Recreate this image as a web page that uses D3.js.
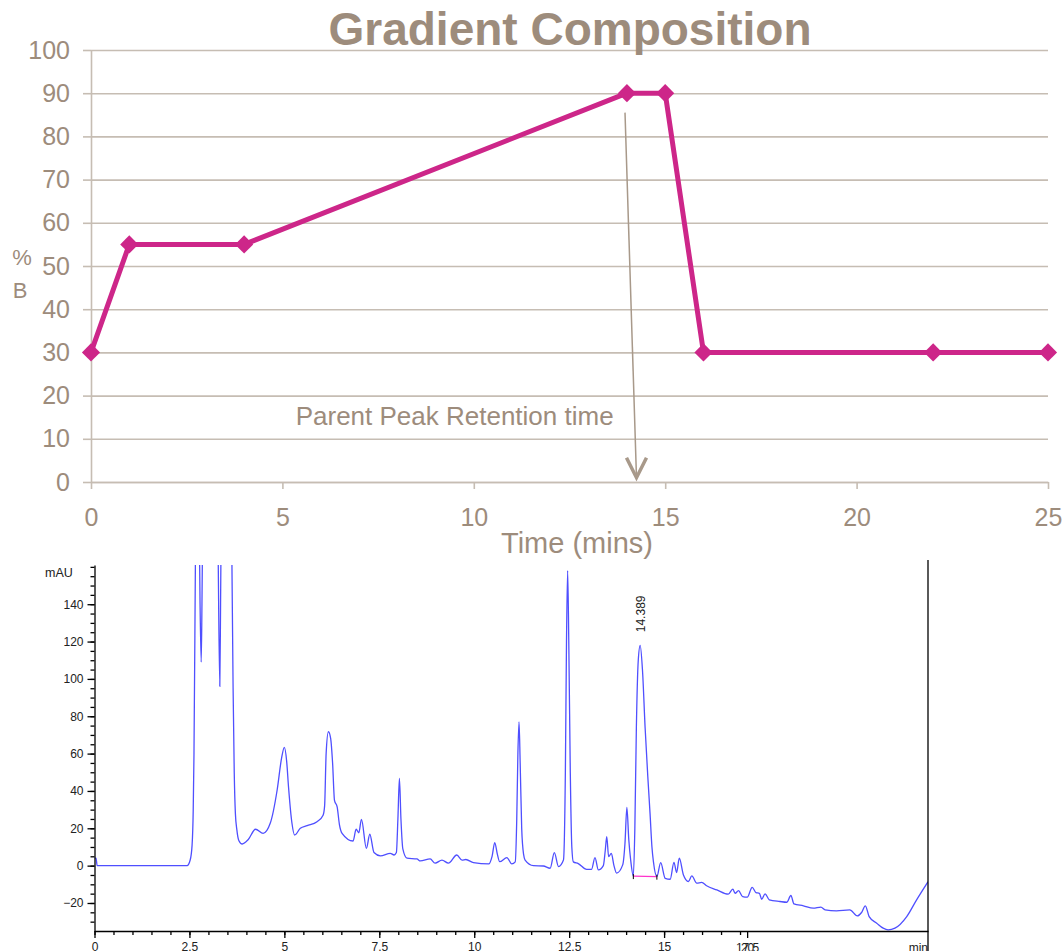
<!DOCTYPE html>
<html>
<head>
<meta charset="utf-8">
<script src="https://cdn.jsdelivr.net/npm/d3@7"></script>
<style>
  body { margin: 0; background: #fff; }
  svg { display: block; }
</style>
</head>
<body>
<svg id="chart" width="1063" height="951"></svg>
<script>
// gradient program: time (min) vs %B
var gradTime = [0, 1, 4, 14, 15, 16, 22, 25];
var gradB = [30, 55, 55, 90, 90, 30, 30, 30];
var gradYTicks = [0, 10, 20, 30, 40, 50, 60, 70, 80, 90, 100];
var gradXTicks = [0, 5, 10, 15, 20, 25];
var arrowPts = [[13.95, 85.5], [14.25, 1]];
var arrowText = "Parent Peak Retention time";
var arrowTextAt = [9.5, 13.2];

// chromatogram trace: [time (min), mAU]
var chromTrace = [
  [0,4],[0.04,4],[0.07,0],[1,0],[2,0],[2.44,0],[2.52,3],[2.57,11],[2.60,30],[2.62,60],
  [2.66,170],[2.70,260],[2.75,200],[2.78,140],[2.81,109],[2.83,140],[2.86,210],[2.92,320],[3.10,400],[3.22,260],
  [3.26,160],[3.30,96],[3.32,140],[3.35,220],[3.45,400],[3.58,260],[3.62,160],[3.65,95],[3.68,50],[3.71,28],
  [3.75,19],[3.80,13.5],[3.89,11.6],[4.05,14],[4.24,19.5],[4.44,17.3],[4.63,22.8],[4.81,40.5],[4.93,58],[5.0,63.3],
  [5.06,56],[5.11,42],[5.20,22.7],[5.27,16.4],[5.42,20],[5.60,21.4],[5.86,23.5],[6.02,27],[6.06,32],[6.10,60],
  [6.16,71.7],[6.22,68],[6.27,55],[6.32,35],[6.39,31.5],[6.45,22],[6.52,17.3],[6.81,13.2],[6.89,19.5],[6.96,17.6],
  [7.03,24.8],[7.16,9.3],[7.25,16.8],[7.36,7],[7.53,5.2],[7.79,6.6],[7.89,5.7],[7.95,7],[7.99,25],[8.03,46.7],
  [8.07,25],[8.12,9],[8.23,4],[8.49,3.6],[8.58,2.5],[8.84,3.6],[8.97,1.3],[9.15,3],[9.32,1.3],[9.54,5.7],
  [9.68,3],[9.78,3.3],[9.98,1.6],[10.38,0.9],[10.47,5],[10.54,12.3],[10.61,6],[10.67,2.1],[10.86,4.3],[10.99,0.9],
  [11.08,2],[11.12,25],[11.15,60],[11.18,77],[11.21,55],[11.25,20],[11.30,6],[11.34,3],[11.56,0],[11.82,-0.2],
  [12.0,-1.4],[12.11,7],[12.22,-0.5],[12.35,3],[12.40,50],[12.43,120],[12.46,158],[12.49,120],[12.53,50],[12.57,10],
  [12.61,2],[12.74,1.1],[12.96,-2],[13.09,-2],[13.18,4.3],[13.27,-2.3],[13.40,0],[13.45,8],[13.49,15.5],[13.54,4.8],
  [13.61,6.6],[13.68,0],[13.75,-4],[13.91,0.4],[13.97,12],[14.02,31.2],[14.07,14],[14.12,3],[14.19,-5.5],[14.23,20],
  [14.27,74],[14.32,110],[14.37,118],[14.43,105],[14.50,74],[14.57,48],[14.63,28],[14.68,10],[14.72,2],[14.81,-5.9],
  [14.91,1.6],[15.03,-6.8],[15.16,-7.3],[15.26,1.8],[15.33,-3.7],[15.40,4],[15.51,-5],[15.64,-8.5],[15.73,-5.5],[15.86,-9.4],
  [15.99,-9],[16.12,-10.8],[16.39,-13],[16.69,-15.3],[16.81,-12.6],[16.87,-14.8],[16.96,-13.4],[17.07,-16.6],[17.19,-16.9],[17.32,-11.6],
  [17.42,-14.4],[17.51,-14.8],[17.57,-18],[17.66,-15.1],[17.77,-18.3],[18.05,-19.2],[18.23,-19.6],[18.34,-16],[18.42,-20.5],[18.67,-21.5],
  [18.93,-22.8],[19.13,-22.2],[19.24,-23.7],[19.54,-24.2],[19.89,-23.7],[20.09,-26.9],[20.20,-25.1],[20.30,-21.5],[20.40,-27.3],[20.60,-30.8],
  [20.77,-33.5],[20.90,-34.4],[21.08,-33.5],[21.39,-27.3],[21.65,-18.3],[21.95,-8.6]
];
var chromYTicks = [-20, 0, 20, 40, 60, 80, 100, 120, 140];
var chromXTicks = [0, 2.5, 5, 7.5, 10, 12.5, 15];
var peakTime = 14.389;
var peakTop = 121;
var peakBase = [[14.19, -5.6], [14.81, -5.9]];
var oddTick = 17.2;
var oddLabels = ["17.5", "20"];

var svg = d3.select("#chart");
var brown = "#9d8c7c", grid = "#c6bdb3", pink = "#cd2689";
var sans = "'Liberation Sans', Arial, sans-serif";

// ---------- upper chart: gradient composition ----------
var x = d3.scaleLinear().domain([0, 25]).range([91, 1048]);
var y = d3.scaleLinear().domain([0, 100]).range([482, 50]);

var gradG = svg.append("g");

// gridlines
gradG.append("g")
    .attr("transform", "translate(" + x(0) + ",0)")
    .call(d3.axisLeft(y).tickValues(gradYTicks).tickSize(-(x(25) - x(0))).tickFormat(""))
    .call(function(g) { g.select(".domain").remove(); })
    .selectAll("line").attr("stroke", grid).attr("stroke-width", 1.6);

// y axis
var yAx = gradG.append("g")
    .attr("transform", "translate(" + x(0) + ",0)")
    .call(d3.axisLeft(y).tickValues(gradYTicks).tickSize(8).tickPadding(13).tickSizeOuter(0));
yAx.select(".domain").attr("stroke", grid).attr("stroke-width", 1.6);
yAx.selectAll("line").attr("stroke", grid).attr("stroke-width", 1.6);
yAx.selectAll("text").attr("fill", brown).attr("font-size", 25).attr("font-family", sans);

// x axis
var xAx = gradG.append("g")
    .attr("transform", "translate(0," + y(0) + ")")
    .call(d3.axisBottom(x).tickValues(gradXTicks).tickSize(7).tickPadding(19).tickSizeOuter(0));
xAx.select(".domain").attr("stroke", grid).attr("stroke-width", 1.6);
xAx.selectAll("line").attr("stroke", grid).attr("stroke-width", 1.6);
xAx.selectAll("text").attr("fill", brown).attr("font-size", 25).attr("font-family", sans);

// title and axis labels
gradG.append("text")
    .attr("x", 570).attr("y", 45)
    .attr("text-anchor", "middle")
    .attr("font-family", sans).attr("font-weight", "bold").attr("font-size", 46)
    .attr("fill", brown)
    .text("Gradient Composition");

gradG.append("text")
    .attr("x", 577).attr("y", 553)
    .attr("text-anchor", "middle")
    .attr("font-family", sans).attr("font-size", 29)
    .attr("fill", brown)
    .text("Time (mins)");

gradG.append("text")
    .attr("x", 22).attr("y", 265)
    .attr("text-anchor", "middle")
    .attr("font-family", sans).attr("font-size", 22)
    .attr("fill", brown)
    .text("%");
gradG.append("text")
    .attr("x", 20).attr("y", 298)
    .attr("text-anchor", "middle")
    .attr("font-family", sans).attr("font-size", 22)
    .attr("fill", brown)
    .text("B");

// annotation arrow
var a0 = arrowPts[0], a1 = arrowPts[1];
gradG.append("line")
    .attr("x1", x(a0[0])).attr("y1", y(a0[1]))
    .attr("x2", x(a1[0])).attr("y2", y(a1[1]))
    .attr("stroke", "#a8998a").attr("stroke-width", 1.5);
var tipX = x(a1[0]), tipY = y(a1[1]);
gradG.append("path")
    .attr("d", "M" + (tipX - 10) + "," + (tipY - 20) + "L" + tipX + "," + tipY + "L" + (tipX + 10) + "," + (tipY - 20))
    .attr("fill", "none").attr("stroke", "#a8998a").attr("stroke-width", 3.5)
    .attr("stroke-linejoin", "miter");

gradG.append("text")
    .attr("x", x(arrowTextAt[0])).attr("y", y(arrowTextAt[1]))
    .attr("text-anchor", "middle")
    .attr("font-family", sans).attr("font-size", 26)
    .attr("fill", brown)
    .text(arrowText);

// gradient line + markers
var gradData = gradTime.map(function(t, i) { return [t, gradB[i]]; });
gradG.append("path")
    .datum(gradData)
    .attr("fill", "none")
    .attr("stroke", pink)
    .attr("stroke-width", 5)
    .attr("stroke-linejoin", "round")
    .attr("d", d3.line().x(function(d) { return x(d[0]); }).y(function(d) { return y(d[1]); }));

gradG.selectAll(".mk")
    .data(gradData)
  .enter().append("path")
    .attr("class", "mk")
    .attr("d", d3.symbol().type(d3.symbolSquare).size(165))
    .attr("transform", function(d) { return "translate(" + x(d[0]) + "," + y(d[1]) + ") rotate(45)"; })
    .attr("fill", pink);

// ---------- lower chart: chromatogram ----------
var cx = d3.scaleLinear().domain([0, 21.95]).range([94.5, 928]);
var cy = d3.scaleLinear().domain([-35, 161]).range([931, 565]);
var ink = "#222";

var chromG = svg.append("g");

chromG.append("clipPath").attr("id", "plotclip")
  .append("rect")
    .attr("x", cx(0)).attr("y", cy(161))
    .attr("width", cx(21.95) - cx(0)).attr("height", cy(-35) - cy(161));

chromG.append("path")
    .datum(chromTrace)
    .attr("clip-path", "url(#plotclip)")
    .attr("fill", "none")
    .attr("stroke", "#4f4fff")
    .attr("stroke-width", 1.3)
    .attr("d", d3.line().curve(d3.curveMonotoneX)
        .x(function(d) { return cx(d[0]); })
        .y(function(d) { return cy(d[1]); }));

// integration baseline for the labelled peak
chromG.append("line")
    .attr("class", "pk")
    .attr("x1", cx(peakBase[0][0])).attr("y1", cy(peakBase[0][1]))
    .attr("x2", cx(peakBase[1][0])).attr("y2", cy(peakBase[1][1]))
    .attr("stroke", "#ff33cc").attr("stroke-width", 1.2);
chromG.selectAll(".bt")
    .data(peakBase)
  .enter().append("line")
    .attr("class", "bt")
    .attr("x1", function(d) { return cx(d[0]); }).attr("x2", function(d) { return cx(d[0]); })
    .attr("y1", function(d) { return cy(d[1]) - 2; }).attr("y2", function(d) { return cy(d[1]) + 3; })
    .attr("stroke", "#000").attr("stroke-width", 1);

chromG.append("text")
    .attr("transform", "translate(" + (cx(peakTime) + 4) + "," + cy(peakTop + 4) + ") rotate(-90)")
    .attr("font-family", sans).attr("font-size", 12)
    .attr("fill", ink)
    .text(peakTime.toFixed(3));

// y axis: minor then major
chromG.append("g")
    .attr("transform", "translate(" + cx(0) + ",0)")
    .call(d3.axisLeft(cy).tickValues(d3.range(-30, 161, 5)).tickSize(4).tickFormat(""))
    .call(function(g) { g.select(".domain").remove(); });
var cyAx = chromG.append("g")
    .attr("transform", "translate(" + cx(0) + ",0)")
    .call(d3.axisLeft(cy).tickValues(chromYTicks).tickSize(7).tickPadding(4).tickSizeOuter(0));
cyAx.selectAll("text").attr("font-size", 12).attr("font-family", sans).attr("fill", ink);

chromG.append("text")
    .attr("x", 45).attr("y", 577)
    .attr("font-family", sans).attr("font-size", 12.5)
    .attr("fill", ink)
    .text("mAU");

// x axis: minor, major, then the odd overlapped tick
chromG.append("g")
    .attr("transform", "translate(0," + cy(-35) + ")")
    .call(d3.axisBottom(cx).tickValues(d3.range(0, 17.01, 0.5)).tickSize(4).tickFormat(""))
    .call(function(g) { g.select(".domain").remove(); });
var cxAx = chromG.append("g")
    .attr("transform", "translate(0," + cy(-35) + ")")
    .call(d3.axisBottom(cx).tickValues(chromXTicks).tickSize(7).tickPadding(4).tickSizeOuter(0)
        .tickFormat(function(d) { return d; }));
cxAx.selectAll("text").attr("font-size", 12).attr("font-family", sans).attr("fill", ink);

chromG.append("line")
    .attr("class", "frame")
    .attr("x1", cx(oddTick)).attr("x2", cx(oddTick))
    .attr("y1", cy(-35)).attr("y2", cy(-35) + 7);
chromG.selectAll(".odd")
    .data(oddLabels)
  .enter().append("text")
    .attr("class", "odd")
    .attr("x", cx(oddTick)).attr("y", cy(-35) + 20.5)
    .attr("text-anchor", "middle")
    .attr("font-family", sans).attr("font-size", 12)
    .attr("fill", ink)
    .text(function(d) { return d; });

chromG.append("text")
    .attr("x", cx(21.95)).attr("y", cy(-35) + 20.5)
    .attr("text-anchor", "end")
    .attr("font-family", sans).attr("font-size", 12)
    .attr("fill", ink)
    .text("min");

// right frame line
chromG.append("line")
    .attr("class", "frame")
    .attr("x1", cx(21.95)).attr("x2", cx(21.95))
    .attr("y1", 560).attr("y2", 951);

chromG.selectAll(".tick line, .domain, .frame")
    .attr("stroke", "#000").attr("stroke-width", 1.3);
</script>
</body>
</html>
